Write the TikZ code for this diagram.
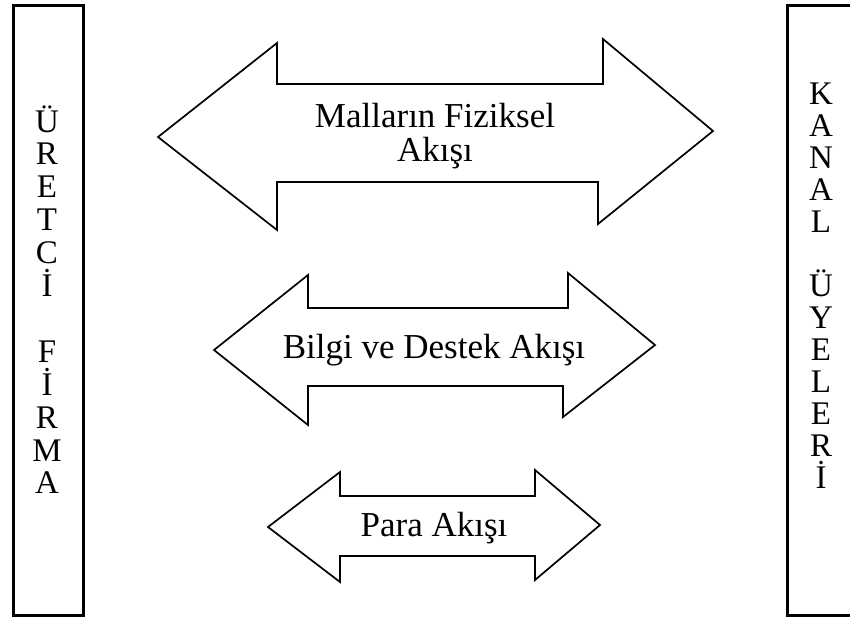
\documentclass[tikz,border=0pt]{standalone}
\usepackage{fontspec}
\setmainfont{Liberation Serif}
\begin{document}
\begin{tikzpicture}[x=1pt,y=-1pt,
  panel/.style={draw=black, line width=3pt, inner sep=0pt, anchor=north west},
  flow/.style={draw=black, line width=1.7pt, line join=miter},
  flowtext/.style={font=\fontsize{35}{34}\selectfont, inner sep=0pt, anchor=base},
  letter/.style={font=\fontsize{33}{33}\selectfont, inner sep=0pt, anchor=base}]
\useasboundingbox (0,0) rectangle (850,619);
\clip (0,0) rectangle (850,619);

% side panels (the right one runs past the page edge)
\node[panel, minimum width=70pt, minimum height=610pt] (producer) at (12,4) {};
\node[panel, minimum width=72pt, minimum height=610pt] (members) at (786,4) {};

% stacked letters inside the panels
\foreach \ch [count=\i] in {Ü,R,E,T,C,İ,,F,İ,R,M,A}
  \node[letter] (p\i) at (47, {132+(\i-1)*32.9}) {\ch};
\foreach \ch [count=\i] in {K,A,N,A,L,,Ü,Y,E,L,E,R,İ}
  \node[letter] (m\i) at (821, {104+(\i-1)*32}) {\ch};

% physical flow of goods
\draw[flow] (158,137) -- (277,43) -- (277,84) -- (603,84) -- (603,39)
  -- (713,131) -- (598,224) -- (598,182) -- (277,182) -- (277,230) -- cycle;
\node[flowtext] (goods1) at (435,127) {Malların Fiziksel};
\node[flowtext] (goods2) at (435,161) {Akışı};

% information and support flow
\draw[flow] (214,350) -- (308,275) -- (308,308) -- (568,308) -- (568,273)
  -- (655,345) -- (563,417) -- (563,386) -- (308,386) -- (308,425) -- cycle;
\node[flowtext] (info) at (434,358) {Bilgi ve Destek Akışı};

% money flow
\draw[flow] (268,527) -- (340,472) -- (340,496) -- (535,496) -- (535,470)
  -- (600,525) -- (535,580) -- (535,556) -- (340,556) -- (340,582) -- cycle;
\node[flowtext] (money) at (434,536) {Para Akışı};
\end{tikzpicture}
\end{document}
